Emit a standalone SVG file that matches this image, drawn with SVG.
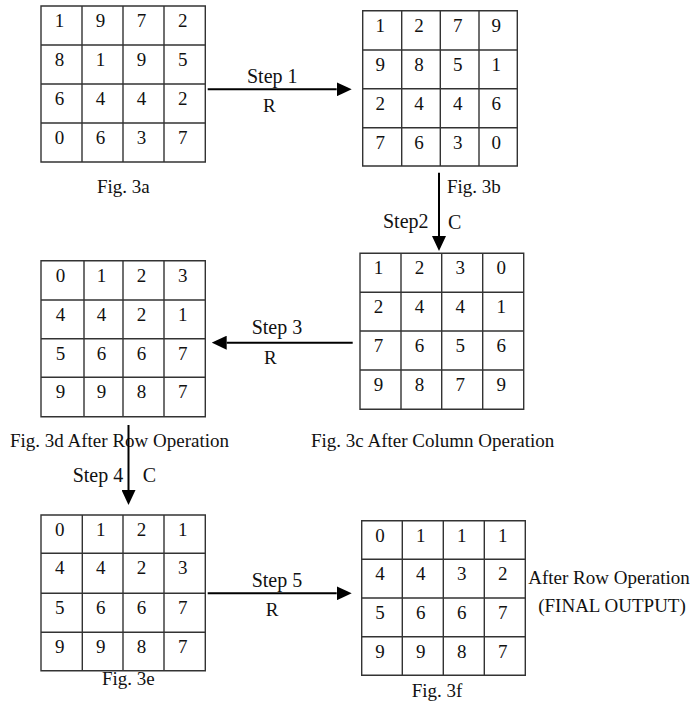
<svg xmlns="http://www.w3.org/2000/svg" width="690" height="703" viewBox="0 0 690 703">
<style>
.g{fill:none;stroke:#333;stroke-width:1.4}
.d{font-family:"Liberation Serif","Times New Roman",serif;font-size:19px;fill:#111;text-anchor:middle}
.t{font-family:"Liberation Serif","Times New Roman",serif;font-size:19px;fill:#111}
.s{font-family:"Liberation Serif","Times New Roman",serif;font-size:20px;fill:#111}
.a{stroke:#000;stroke-width:2;fill:none}
</style>
<defs>
<marker id="ah" markerUnits="userSpaceOnUse" markerWidth="15" markerHeight="14" refX="0" refY="7" orient="auto"><path d="M0,0 L15,7 L0,14 z" fill="#000"/></marker>
</defs>
<rect width="690" height="703" fill="#fff"/>

<g id="fig3a">
<path class="g" d="M41,6H205.3V162H41Z M82,6V162 M123,6V162 M164,6V162 M41,45H205.3 M41,84H205.3 M41,123H205.3"/>
<g class="d">
<text x="59.5" y="27">1</text><text x="100.5" y="27">9</text><text x="141.5" y="27">7</text><text x="182.7" y="27">2</text>
<text x="59.5" y="66">8</text><text x="100.5" y="66">1</text><text x="141.5" y="66">9</text><text x="182.7" y="66">5</text>
<text x="59.5" y="105">6</text><text x="100.5" y="105">4</text><text x="141.5" y="105">4</text><text x="182.7" y="105">2</text>
<text x="59.5" y="144">0</text><text x="100.5" y="144">6</text><text x="141.5" y="144">3</text><text x="182.7" y="144">7</text>
</g>
<text class="t" x="97" y="193">Fig. 3a</text>
</g>

<g id="fig3b">
<path class="g" d="M362.7,10.7H517.3V166H362.7Z M401.7,10.7V166 M440.3,10.7V166 M479,10.7V166 M362.7,50H517.3 M362.7,88.7H517.3 M362.7,127.7H517.3"/>
<g class="d">
<text x="380.2" y="31.7">1</text><text x="419" y="31.7">2</text><text x="457.7" y="31.7">7</text><text x="496.2" y="31.7">9</text>
<text x="380.2" y="71">9</text><text x="419" y="71">8</text><text x="457.7" y="71">5</text><text x="496.2" y="71">1</text>
<text x="380.2" y="109.7">2</text><text x="419" y="109.7">4</text><text x="457.7" y="109.7">4</text><text x="496.2" y="109.7">6</text>
<text x="380.2" y="148.7">7</text><text x="419" y="148.7">6</text><text x="457.7" y="148.7">3</text><text x="496.2" y="148.7">0</text>
</g>
<text class="t" x="447" y="193">Fig. 3b</text>
</g>

<g id="fig3c">
<path class="g" d="M360,253.3H523.7V409.3H360Z M401,253.3V409.3 M441.7,253.3V409.3 M482.7,253.3V409.3 M360,292.3H523.7 M360,331H523.7 M360,370H523.7"/>
<g class="d">
<text x="378.5" y="274.3">1</text><text x="419.4" y="274.3">2</text><text x="460.2" y="274.3">3</text><text x="501.2" y="274.3">0</text>
<text x="378.5" y="313.3">2</text><text x="419.4" y="313.3">4</text><text x="460.2" y="313.3">4</text><text x="501.2" y="313.3">1</text>
<text x="378.5" y="352">7</text><text x="419.4" y="352">6</text><text x="460.2" y="352">5</text><text x="501.2" y="352">6</text>
<text x="378.5" y="391">9</text><text x="419.4" y="391">8</text><text x="460.2" y="391">7</text><text x="501.2" y="391">9</text>
</g>
<text class="t" x="311" y="446.7">Fig. 3c After Column Operation</text>
</g>

<g id="fig3d">
<path class="g" d="M41,260.7H205.3V416.7H41Z M84,260.7V416.7 M123,260.7V416.7 M164,260.7V416.7 M41,300H205.3 M41,338.7H205.3 M41,377.3H205.3"/>
<g class="d">
<text x="60.5" y="281.7">0</text><text x="101.5" y="281.7">1</text><text x="141.5" y="281.7">2</text><text x="182.7" y="281.7">3</text>
<text x="60.5" y="321">4</text><text x="101.5" y="321">4</text><text x="141.5" y="321">2</text><text x="182.7" y="321">1</text>
<text x="60.5" y="359.7">5</text><text x="101.5" y="359.7">6</text><text x="141.5" y="359.7">6</text><text x="182.7" y="359.7">7</text>
<text x="60.5" y="398.3">9</text><text x="101.5" y="398.3">9</text><text x="141.5" y="398.3">8</text><text x="182.7" y="398.3">7</text>
</g>
<text class="t" x="10" y="446.7">Fig. 3d After Row Operation</text>
</g>

<g id="fig3e">
<path class="g" d="M41,515H205.3V670.7H41Z M82.3,515V670.7 M123,515V670.7 M164,515V670.7 M41,553.3H205.3 M41,593.3H205.3 M41,632.3H205.3"/>
<g class="d">
<text x="59.7" y="536">0</text><text x="100.7" y="536">1</text><text x="141.5" y="536">2</text><text x="182.7" y="536">1</text>
<text x="59.7" y="574.3">4</text><text x="100.7" y="574.3">4</text><text x="141.5" y="574.3">2</text><text x="182.7" y="574.3">3</text>
<text x="59.7" y="614.3">5</text><text x="100.7" y="614.3">6</text><text x="141.5" y="614.3">6</text><text x="182.7" y="614.3">7</text>
<text x="59.7" y="653.3">9</text><text x="100.7" y="653.3">9</text><text x="141.5" y="653.3">8</text><text x="182.7" y="653.3">7</text>
</g>
<text class="t" x="102" y="685">Fig. 3e</text>
</g>

<g id="fig3f">
<path class="g" d="M361.7,520.7H525.3V675.3H361.7Z M402.3,520.7V675.3 M443.3,520.7V675.3 M484.3,520.7V675.3 M361.7,559.3H525.3 M361.7,598H525.3 M361.7,636.7H525.3"/>
<g class="d">
<text x="380" y="541.7">0</text><text x="420.8" y="541.7">1</text><text x="461.8" y="541.7">1</text><text x="502.8" y="541.7">1</text>
<text x="380" y="580.3">4</text><text x="420.8" y="580.3">4</text><text x="461.8" y="580.3">3</text><text x="502.8" y="580.3">2</text>
<text x="380" y="619">5</text><text x="420.8" y="619">6</text><text x="461.8" y="619">6</text><text x="502.8" y="619">7</text>
<text x="380" y="657.7">9</text><text x="420.8" y="657.7">9</text><text x="461.8" y="657.7">8</text><text x="502.8" y="657.7">7</text>
</g>
<text class="t" x="411.7" y="696.7">Fig. 3f</text>
<text class="d" x="609" y="584">After Row Operation</text>
<text class="d" x="612" y="611.7">(FINAL OUTPUT)</text>
</g>

<g id="connectors">
<line class="a" x1="207.7" y1="89.3" x2="336.7" y2="89.3" marker-end="url(#ah)"/>
<line class="a" x1="439" y1="172.7" x2="439" y2="236" marker-end="url(#ah)"/>
<line class="a" x1="352.7" y1="342.7" x2="226.7" y2="342.7" marker-end="url(#ah)"/>
<line class="a" x1="128.5" y1="425" x2="128.5" y2="490" marker-end="url(#ah)"/>
<line class="a" x1="207.7" y1="593.3" x2="336.7" y2="593.3" marker-end="url(#ah)"/>
<text class="s" x="247" y="83">Step 1</text>
<text class="t" x="263" y="112">R</text>
<text class="s" x="383" y="228">Step2</text>
<text class="s" x="448" y="229">C</text>
<text class="s" x="251.7" y="334.3">Step 3</text>
<text class="t" x="264" y="364">R</text>
<text class="s" x="72.7" y="481.7">Step 4</text>
<text class="s" x="142.7" y="482">C</text>
<text class="s" x="251.7" y="586.7">Step 5</text>
<text class="t" x="265.7" y="615.7">R</text>
</g>
</svg>
